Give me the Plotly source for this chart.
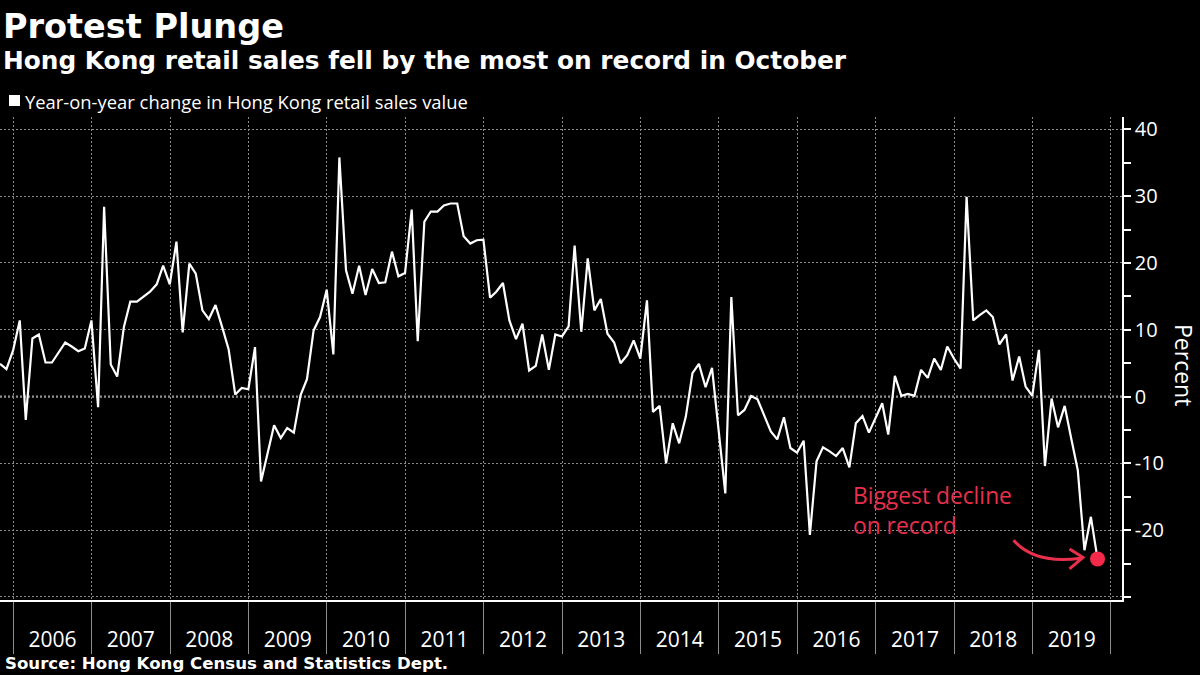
import plotly.graph_objects as go
import pandas as pd

# ---------------- data (monthly, first value = Oct 2005) ----------------
first_month = "2005-10"
yoy_change = [
    # 2005 Oct-Dec
    4.9, 4.1, 6.9,
    # 2006
    11.4, -3.5, 8.7, 9.3, 5.1, 5.1, 6.7, 8.1, 7.5, 6.8, 7.2, 11.4,
    # 2007
    -1.6, 28.4, 4.8, 3.0, 10.4, 14.2, 14.2, 14.9, 15.7, 16.8, 19.6, 16.8,
    # 2008
    23.2, 9.6, 19.9, 18.4, 12.9, 11.6, 13.7, 10.4, 7.1, 0.3, 1.3, 1.1,
    # 2009
    7.4, -12.7, -8.5, -4.3, -6.2, -4.7, -5.4, 0.2, 2.6, 9.9, 11.9, 16.0,
    # 2010
    6.3, 35.8, 18.9, 15.4, 19.6, 15.2, 19.1, 17.0, 17.1, 21.7, 18.0, 18.5,
    # 2011
    28.0, 8.3, 26.2, 27.7, 27.7, 28.6, 28.9, 28.9, 24.0, 22.9, 23.4, 23.5,
    # 2012
    14.8, 15.7, 17.0, 11.4, 8.6, 10.9, 3.9, 4.6, 9.3, 4.0, 9.3, 9.0,
    # 2013
    10.5, 22.6, 9.7, 20.7, 12.9, 14.6, 9.4, 8.1, 5.0, 6.2, 8.4, 5.7,
    # 2014
    14.4, -2.3, -1.4, -10.0, -4.0, -7.0, -3.0, 3.5, 4.9, 1.4, 4.3, -4.9,
    # 2015
    -14.5, 14.9, -2.8, -2.0, 0.1, -0.4, -2.8, -5.2, -6.4, -3.1, -7.7, -8.4,
    # 2016
    -6.6, -20.7, -9.7, -7.6, -8.2, -8.9, -7.7, -10.6, -4.0, -2.9, -5.4, -3.3,
    # 2017
    -1.0, -5.7, 3.1, 0.1, 0.4, 0.1, 4.0, 2.8, 5.7, 4.0, 7.5, 5.7,
    # 2018
    4.2, 29.9, 11.4, 12.2, 12.9, 11.9, 7.8, 9.3, 2.4, 6.0, 1.5, 0.1,
    # 2019 Jan-Oct
    7.0, -10.4, -0.3, -4.6, -1.4, -6.2, -11.0, -23.0, -18.0, -24.3,
]
y_tick_values = [-30, -20, -10, 0, 10, 20, 30, 40]
y_tick_labels = ["", "-20", "-10", "0", "10", "20", "30", "40"]

title_text = "Protest Plunge"
subtitle_text = "Hong Kong retail sales fell by the most on record in October"
legend_text = "Year-on-year change in Hong Kong retail sales value"
source_text = "Source: Hong Kong Census and Statistics Dept."
note_text = "Biggest decline<br>on record"
axis_title = "Percent"

# month-end dates
month_ends = pd.date_range(pd.Period(first_month, "M").to_timestamp() + pd.offsets.MonthBegin(1),
                           periods=len(yoy_change), freq="MS") - pd.Timedelta(days=1)

# ---------------- layout geometry ----------------
W, H = 1200, 675
ML, MR, MT, MB = 0, 78, 117, 75
PW, PH = W - ML - MR, H - MT - MB


def px_x(x):
    return (x - ML) / PW


def px_y(y):
    return (H - MB - y) / PH


RED = "#e8304c"
GRID = "#8a8a8a"
BOLD = "DejaVu Sans"
REG = "Open Sans"

fig = go.Figure()
fig.add_trace(go.Scatter(x=month_ends, y=yoy_change, mode="lines",
                         line=dict(color="white", width=2.2), showlegend=False,
                         hoverinfo="skip"))
fig.add_trace(go.Scatter(x=[month_ends[-1]], y=[yoy_change[-1]], mode="markers",
                         marker=dict(size=15, color="#f52a4a"), cliponaxis=False,
                         showlegend=False, hoverinfo="skip"))

fig.update_layout(
    width=W, height=H,
    margin=dict(l=ML, r=MR, t=MT, b=MB, pad=0),
    paper_bgcolor="black", plot_bgcolor="black",
    showlegend=False,
    xaxis=dict(
        type="date", range=["2005-10-31", "2020-02-22"],
        tick0="2006-01-01", dtick="M12", tickformat="%Y", ticklabelmode="period",
        ticks="outside", ticklen=52, tickwidth=1, tickcolor="#8c8c8c",
        ticklabelstandoff=-32,
        showgrid=True, gridcolor=GRID, gridwidth=1, griddash="2px,2px",
        showline=True, linecolor="white", linewidth=1.5,
        zeroline=False,
        tickfont=dict(family=REG, size=21, color="white"),
    ),
    yaxis=dict(
        side="right", range=[-30.45, 41.85],
        tickmode="array", tickvals=y_tick_values, ticktext=y_tick_labels,
        ticks="outside", ticklen=7, tickwidth=1.5, tickcolor="white",
        minor=dict(tickmode="linear", tick0=0, dtick=5, ticks="outside", ticklen=7,
                   tickwidth=1.5, tickcolor="white", showgrid=False),
        showgrid=True, gridcolor=GRID, gridwidth=1, griddash="2px,2px",
        showline=True, linecolor="white", linewidth=1.5,
        zeroline=False,
        tickfont=dict(family=REG, size=20, color="white"),
    ),
)

shapes = [
    # zero line (heavier dotted)
    dict(type="line", xref="paper", yref="y", x0=0, x1=1, y0=0, y1=0,
         line=dict(color="#a0a0a0", width=2.2, dash="2px,2px"), layer="below"),
    # legend square
    dict(type="rect", xref="paper", yref="paper",
         x0=px_x(9), x1=px_x(20), y0=px_y(106), y1=px_y(95),
         fillcolor="white", line=dict(width=0)),
    # curved arrow to the last point (pixel offsets from the point)
    dict(type="path", xref="x", yref="y", xsizemode="pixel", ysizemode="pixel",
         xanchor=month_ends[-1], yanchor=yoy_change[-1],
         path="M -84,18.6 Q -62,-6 -16,1 M -28,10 L -14.5,1.5 L -28,-10",
         line=dict(color=RED, width=3)),
]
fig.update_layout(shapes=shapes)

annotations = [
    dict(text=f"<b>{title_text}</b>", x=px_x(1), y=px_y(26), xanchor="left", yanchor="middle",
         font=dict(family=BOLD, size=33.5, color="white")),
    dict(text=f"<b>{subtitle_text}</b>", x=px_x(1), y=px_y(60), xanchor="left", yanchor="middle",
         font=dict(family=BOLD, size=24.8, color="white")),
    dict(text=legend_text, x=px_x(23), y=px_y(101), xanchor="left", yanchor="middle",
         font=dict(family=REG, size=18.4, color="white")),
    dict(text=f"<b>{source_text}</b>", x=px_x(3), y=px_y(663), xanchor="left", yanchor="middle",
         font=dict(family=BOLD, size=16.6, color="white")),
    dict(text=axis_title, x=px_x(1184), y=px_y(365), xanchor="center", yanchor="middle",
         textangle=90, font=dict(family=REG, size=23, color="white")),
    dict(text=note_text, x=px_x(851), y=px_y(510), xanchor="left", yanchor="middle",
         align="left", font=dict(family=REG, size=22.8, color=RED)),
]
for a in annotations:
    a.update(xref="paper", yref="paper", showarrow=False)
fig.update_layout(annotations=annotations)

fig.write_html("out.html")
